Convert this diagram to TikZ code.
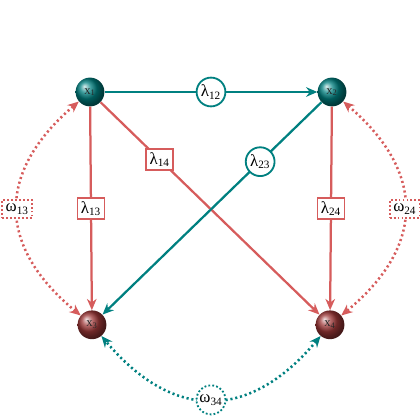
\documentclass[tikz,border=0pt]{standalone}
\usepackage{fontspec}
\setmainfont{Liberation Serif}
\usetikzlibrary{arrows.meta, positioning, shapes.geometric}
\colorlet{tealedge}{teal}
\definecolor{rededge}{rgb}{0.84,0.36,0.36}
\definecolor{redball}{rgb}{0.62,0.22,0.22}

\begin{document}
\begin{tikzpicture}[
    ball/.style={circle, minimum size=0.72cm, inner sep=0pt, font=\small, text=black!85},
    tealball/.style={ball, ball color=teal},
    redball/.style={ball, ball color=redball},
    link/.style={line width=1.6pt, -{Stealth[length=2.8mm, width=2.4mm]}},
    covar/.style={line width=1.8pt, dash pattern=on 1.5pt off 2pt, {Stealth[length=2.8mm, width=2.4mm]}-{Stealth[length=2.8mm, width=2.4mm]}},
    circlab/.style={circle, draw, line width=1.3pt, fill=white, text=black, font=\large, inner sep=1pt, minimum size=0.72cm},
    boxlab/.style={rectangle, draw, line width=1.3pt, fill=white, text=black, font=\large, inner sep=2.5pt},
    dotcirc/.style={circlab, dash pattern=on 1.3pt off 1.5pt},
    dotbox/.style={boxlab, dash pattern=on 1.3pt off 1.5pt}
  ]
  \useasboundingbox (0,0) rectangle (10.5,10.5);

  \node[tealball] (x1) at (2.25,8.2) {x\textsubscript{1}};
  \node[tealball] (x2) at (8.3,8.2) {x\textsubscript{2}};
  \node[redball] (x3) at (2.3,2.38) {x\textsubscript{3}};
  \node[redball] (x4) at (8.25,2.38) {x\textsubscript{4}};

  % loadings
  \draw[link, tealedge] (x1) -- node[circlab] {λ\textsubscript{12}} (x2);
  \draw[link, rededge] (x1) -- node[boxlab] {λ\textsubscript{13}} (x3);
  \draw[link, rededge] (x1) -- node[boxlab, pos=0.27] {λ\textsubscript{14}} (x4);
  \draw[link, tealedge] (x2) -- node[circlab, pos=0.28] {λ\textsubscript{23}} (x3);
  \draw[link, rededge] (x2) -- node[boxlab] {λ\textsubscript{24}} (x4);

  % covariances
  \draw[covar, rededge] (x3) to[bend left=50, looseness=1.3] node[dotbox] {ω\textsubscript{13}} (x1);
  \draw[covar, rededge] (x2) to[bend left=50, looseness=1.3] node[dotbox] {ω\textsubscript{24}} (x4);
  \draw[covar, tealedge] (x4) to[bend left=50, looseness=1.3] node[dotcirc] {ω\textsubscript{34}} (x3);
\end{tikzpicture}
\end{document}
